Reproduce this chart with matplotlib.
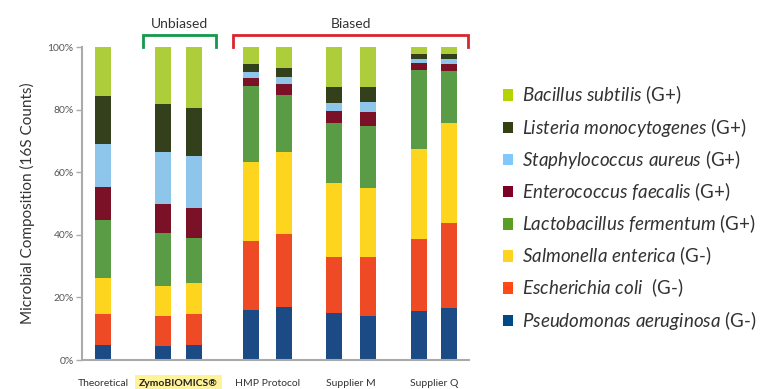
import numpy as np
import matplotlib
matplotlib.use('Agg')
from matplotlib import pyplot as plt
from matplotlib.patches import Patch

plt.rcParams['font.family'] = ['Lato', 'DejaVu Sans']
plt.rcParams['mathtext.fontset'] = 'custom'
plt.rcParams['mathtext.it'] = 'Lato:italic'
plt.rcParams['mathtext.rm'] = 'Lato'

# samples (one bar each) and the group labels under the axis
samples = ['Theoretical', 'Zymo 1', 'Zymo 2', 'HMP 1', 'HMP 2',
           'Supplier M 1', 'Supplier M 2', 'Supplier Q 1', 'Supplier Q 2']
groups = ['Theoretical', 'ZymoBIOMICS®', 'HMP Protocol', 'Supplier M', 'Supplier Q']

# species, bottom to top of each stack
species = ['Pseudomonas aeruginosa', 'Escherichia coli', 'Salmonella enterica',
           'Lactobacillus fermentum', 'Enterococcus faecalis',
           'Staphylococcus aureus', 'Listeria monocytogenes', 'Bacillus subtilis']
gram = ['(G-)', ' (G-)', '(G-)', '(G+)', '(G+)', '(G+)', '(G+)', '(G+)']

# percent composition per species, one value per sample
p_aeruginosa = [4.7, 4.4, 4.7, 15.9, 16.8, 14.9, 13.9, 15.5, 16.5]
e_coli = [9.9, 9.5, 9.9, 22.0, 23.3, 18.1, 18.9, 23.3, 27.4]
s_enterica = [11.5, 9.6, 9.9, 25.2, 26.5, 23.6, 22.2, 28.6, 31.8]
l_fermentum = [18.7, 17.1, 14.5, 24.5, 18.1, 19.1, 19.8, 25.3, 16.6]
e_faecalis = [10.5, 9.3, 9.6, 2.5, 3.5, 3.9, 4.5, 2.2, 2.3]
s_aureus = [13.7, 16.6, 16.6, 1.9, 2.2, 2.5, 3.1, 1.3, 1.6]
l_monocytogenes = [15.4, 15.3, 15.3, 2.6, 2.9, 5.1, 4.8, 1.6, 1.6]
b_subtilis = [15.6, 18.2, 19.5, 5.4, 6.7, 12.8, 12.8, 2.2, 2.2]

values = [p_aeruginosa, e_coli, s_enterica, l_fermentum, e_faecalis,
          s_aureus, l_monocytogenes, b_subtilis]

bar_colors = ['#1B4A85', '#EE4A25', '#FDD41E', '#5A9C46', '#7B1126',
              '#8DC5EB', '#34401B', '#ADCD3A']
legend_colors = ['#004987', '#FF4A15', '#FFD21F', '#5A9F24', '#7D0026',
                 '#7FC9FF', '#344012', '#B5D300']

# layout
xpos = np.array([21, 81, 112, 169, 202, 252, 286, 337, 367])
group_pos = [(xpos[0]), (xpos[1] + xpos[2]) / 2, (xpos[3] + xpos[4]) / 2,
             (xpos[5] + xpos[6]) / 2, (xpos[7] + xpos[8]) / 2]

fig = plt.figure(figsize=(7.7, 3.89), dpi=100)
ax = fig.add_axes([82 / 770, 29 / 389, 387 / 770, 313 / 389])

bottom = np.zeros(len(samples))
for vals, col in zip(values, bar_colors):
    ax.bar(xpos, vals, width=16, bottom=bottom, color=col, linewidth=0)
    bottom += np.array(vals)

ax.set_xlim(0, 387)
ax.set_ylim(0, 100)
ax.set_yticks([0, 20, 40, 60, 80, 100])
ax.set_yticklabels(['0%', '20%', '40%', '60%', '80%', '100%'])
ax.tick_params(axis='y', length=4, width=1, color='#AAAAAA', labelsize=7.5,
               labelcolor='#555555', pad=2)
ax.set_xticks([])
for s in ['top', 'right']:
    ax.spines[s].set_visible(False)
for s in ['left', 'bottom']:
    ax.spines[s].set_color('#AAAAAA')
    ax.spines[s].set_linewidth(1.5)

ax.set_ylabel('Microbial Composition (16S Counts)', fontsize=11, color='#333333',
              labelpad=9)

# group labels under the axis
for g, xp in zip(groups, group_pos):
    if g.startswith('Zymo'):
        ax.text(xp, -7.5, g, ha='center', va='center', fontsize=7.5,
                fontweight='bold', color='#222222',
                bbox=dict(boxstyle='square,pad=0.4', fc='#FFF39A', ec='none'))
    else:
        ax.text(xp, -7.5, g, ha='center', va='center', fontsize=7.5,
                color='#333333')

# brackets above the bars
def bracket(x0, x1, color, label):
    ax.plot([x0, x0, x1, x1], [100, 103.8, 103.8, 100], color=color, lw=2,
            clip_on=False, solid_joinstyle='miter')
    ax.text((x0 + x1) / 2, 107.5, label, ha='center', va='center',
            fontsize=10, color='#333333')

bracket(61, 134, '#14994A', 'Unbiased')
bracket(151, 386, '#D8262E', 'Biased')

# legend, top entry first
handles = []
labels = []
for i in range(len(species) - 1, -1, -1):
    handles.append(Patch(facecolor=legend_colors[i], edgecolor='none'))
    labels.append('$\\it{' + species[i].replace(' ', '\\ ') + '}$ ' + gram[i])
leg = fig.legend(handles, labels, loc='upper left', bbox_to_anchor=(0.631, 0.828),
                 frameon=False, fontsize=13.5, handlelength=0.55, handleheight=0.55,
                 handletextpad=0.5, labelspacing=0.5)
for t in leg.get_texts():
    t.set_color('#333333')

fig.savefig('out.png', dpi=100)
